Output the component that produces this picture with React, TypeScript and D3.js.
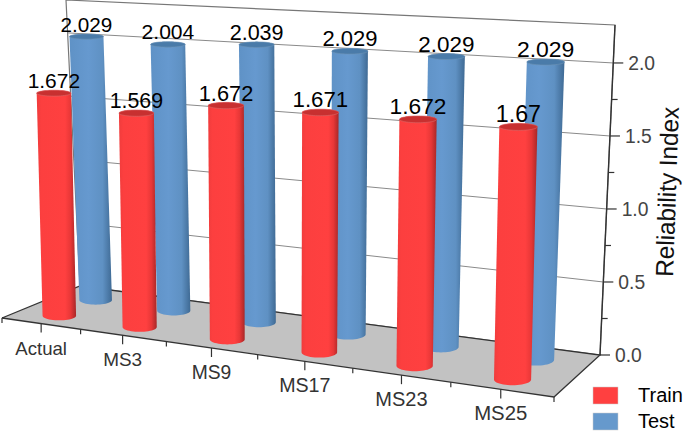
import React, { useEffect, useRef } from "react";
import * as d3 from "d3";

const categories = ["Actual", "MS3", "MS9", "MS17", "MS23", "MS25"];
const trainValues = [1.672, 1.569, 1.672, 1.671, 1.672, 1.67];
const testValues = [2.029, 2.004, 2.039, 2.029, 2.029, 2.029];
const trainLabels = ["1.672", "1.569", "1.672", "1.671", "1.672", "1.67"];
const testLabels = ["2.029", "2.004", "2.039", "2.029", "2.029", "2.029"];
const yTicks = [0, 0.5, 1, 1.5, 2];
const yMinorTicks = [0.25, 0.75, 1.25, 1.75];

type Pt = [number, number];

const width = 685;
const height = 431;
const zMax = 2.26;

// box corners as seen in the picture
const floorFL: Pt = [2, 318];
const floorFR: Pt = [554, 397];
const floorBL: Pt = [80, 286];
const floorBR: Pt = [600, 355];
const topFL: Pt = [-5, 17];
const topFR: Pt = [562, 45];
const topBL: Pt = [66, 0];
const topBR: Pt = [615, 25];

const mix = (a: Pt, b: Pt, t: number): Pt => [a[0] + (b[0] - a[0]) * t, a[1] + (b[1] - a[1]) * t];

const zScale = d3.scaleLinear().domain([0, zMax]).range([0, 1]);
// spacing along the floor grows toward the viewer
const uScale = d3.scalePow().exponent(1.12).domain([0, categories.length]).range([0.01, 0.995]);

const project = (u: number, v: number, z: number): Pt => {
  const floor = mix(mix(floorFL, floorFR, u), mix(floorBL, floorBR, u), v);
  const top = mix(mix(topFL, topFR, u), mix(topBL, topBR, u), v);
  return mix(floor, top, zScale(z));
};

const radiusU = (u: number) => 0.0305 + 0.004 * u;
const radiusV = 0.14;

// the bar ends are level ellipses on screen
const ellipse = (u: number, v: number, z: number): Pt[] => {
  const ru = radiusU(u);
  const [cx, cy] = project(u, v, z);
  const rx = (project(u + ru, v, z)[0] - project(u - ru, v, z)[0]) / 2;
  const ry = (project(u, v - radiusV, z)[1] - project(u, v + radiusV, z)[1]) / 2;
  return d3.range(48).map((i) => {
    const a = (i / 48) * Math.PI * 2;
    return [cx + rx * Math.cos(a), cy + ry * Math.sin(a)] as Pt;
  });
};

const App = () => {
  const svgRef = useRef<SVGSVGElement>(null);

  useEffect(() => {
    if (!svgRef.current) return;
    const svg = d3.select(svgRef.current);
    svg.selectAll("*").remove();

    const defs = svg.append("defs");
    const gradient = (id: string, stops: [number, string][]) => {
      const g = defs.append("linearGradient").attr("id", id);
      stops.forEach(([o, c]) => g.append("stop").attr("offset", o).attr("stop-color", c));
    };
    gradient("redBody", [
      [0, "#f03c3c"],
      [0.12, "#fc3f3f"],
      [0.72, "#ff4040"],
      [0.86, "#e83737"],
      [1, "#a82828"],
    ]);
    gradient("blueBody", [
      [0, "#5f92c6"],
      [0.45, "#6699cf"],
      [0.78, "#5f91c3"],
      [1, "#3f6a94"],
    ]);

    const line = d3.line<Pt>();
    const poly = (pts: Pt[]) => line(pts) + "Z";

    // back wall
    svg
      .append("path")
      .attr("d", poly([project(0, 1, 0), project(0, 1, zMax), project(1, 1, zMax), project(1, 1, 0)]))
      .attr("fill", "white")
      .attr("stroke", "#777")
      .attr("stroke-width", 1.2);

    // gridlines
    yTicks.slice(1).forEach((t) => {
      svg
        .append("path")
        .attr("d", line([project(0, 1, t), project(1, 1, t)]))
        .attr("stroke", "#8a8a8a")
        .attr("stroke-width", 1)
        .attr("fill", "none");
    });

    // floor
    svg
      .append("path")
      .attr("d", poly([project(0, 0, 0), project(1, 0, 0), project(1, 1, 0), project(0, 1, 0)]))
      .attr("fill", "#c2c2c2");
    svg
      .append("path")
      .attr("d", line([project(0, 0, 0), project(0, 1, 0), project(1, 1, 0), project(1, 0, 0), project(0, 0, 0)]))
      .attr("fill", "none")
      .attr("stroke", "#333")
      .attr("stroke-width", 1.3);

    // cylinders, back row first
    const drawBars = (values: number[], v: number, body: string, cap: string, rim: string) => {
      values.forEach((value, i) => {
        const u = uScale(i + 0.5);
        const base = ellipse(u, v, 0);
        const top = ellipse(u, v, value);
        svg
          .append("path")
          .attr("d", poly(d3.polygonHull([...base, ...top]) as Pt[]))
          .attr("fill", `url(#${body})`);
        svg
          .append("path")
          .attr("d", poly(top))
          .attr("fill", cap)
          .attr("stroke", rim)
          .attr("stroke-width", 0.6);
      });
    };
    drawBars(testValues, 0.72, "blueBody", "#4a7ba9", "#6f93b5");
    drawBars(trainValues, 0.24, "redBody", "#c83030", "#d86a6a");

    // value labels, they scale with the bar they sit on
    const drawLabels = (values: number[], labels: string[], v: number) => {
      values.forEach((value, i) => {
        const u = uScale(i + 0.5);
        const ru = radiusU(u);
        const [x, y] = project(u, v, value);
        const barWidth = project(u + ru, v, value)[0] - project(u - ru, v, value)[0];
        svg
          .append("text")
          .attr("x", x)
          .attr("y", y - 5)
          .attr("text-anchor", "middle")
          .attr("font-size", barWidth * 0.61)
          .attr("fill", "#000")
          .text(labels[i]);
      });
    };
    drawLabels(testValues, testLabels, 0.72);
    drawLabels(trainValues, trainLabels, 0.24);

    // category axis on the front edge
    const frontTick = (u: number, len: number) => {
      const [x, y] = project(u, 0, 0);
      svg
        .append("line")
        .attr("x1", x)
        .attr("y1", y)
        .attr("x2", x)
        .attr("y2", y + len)
        .attr("stroke", "#333")
        .attr("stroke-width", 1.2);
    };
    d3.range(0, categories.length + 1).forEach((i) =>
      frontTick(i === 0 ? 0 : i === categories.length ? 1 : uScale(i), 5),
    );
    categories.forEach((c, i) => {
      const u = uScale(i + 0.5);
      frontTick(u, 9);
      const [x, y] = project(u, 0, 0);
      svg
        .append("text")
        .attr("x", x)
        .attr("y", y + 31)
        .attr("text-anchor", "middle")
        .attr("font-size", 18.6 + i * 0.35)
        .attr("fill", "#333")
        .text(c);
    });

    // value axis on the right edge
    svg
      .append("path")
      .attr("d", line([project(1, 1, 0), project(1, 1, zMax)]))
      .attr("stroke", "#333")
      .attr("stroke-width", 1.4);
    yTicks.forEach((t) => {
      const [x, y] = project(1, 1, t);
      svg
        .append("line")
        .attr("x1", x)
        .attr("y1", y)
        .attr("x2", x + 10)
        .attr("y2", y)
        .attr("stroke", "#333")
        .attr("stroke-width", 1.2);
      svg
        .append("text")
        .attr("x", x + 15)
        .attr("y", y + 7)
        .attr("font-size", 19.3)
        .attr("fill", "#444")
        .text(d3.format(".1f")(t));
    });
    yMinorTicks.forEach((t) => {
      const [x, y] = project(1, 1, t);
      svg
        .append("line")
        .attr("x1", x)
        .attr("y1", y)
        .attr("x2", x + 6)
        .attr("y2", y)
        .attr("stroke", "#333")
        .attr("stroke-width", 1.2);
    });

    // title is fitted to its measured length
    const title = svg
      .append("text")
      .attr("font-size", 25)
      .attr("fill", "#111")
      .text("Reliability Index");
    const fit = 170 / (title.node() as SVGTextElement).getComputedTextLength();
    title.attr("transform", `translate(673,277) rotate(-88) scale(${fit},1)`);

    // legend
    const legend = svg.append("g").attr("transform", "translate(593,387)");
    [
      { label: "Train", color: "#ff4040", y: 0 },
      { label: "Test", color: "#6699cc", y: 26 },
    ].forEach((d) => {
      legend
        .append("rect")
        .attr("y", d.y)
        .attr("width", 25)
        .attr("height", 17)
        .attr("fill", d.color)
        .attr("stroke", "#ccc")
        .attr("stroke-width", 0.5);
      legend
        .append("text")
        .attr("x", 45)
        .attr("y", d.y + 14.5)
        .attr("font-size", 20)
        .attr("fill", "#000")
        .text(d.label);
    });
  }, []);

  return (
    <svg
      ref={svgRef}
      width={width}
      height={height}
      style={{ position: "absolute", left: 0, top: 0, fontFamily: "'Liberation Sans', Arial, sans-serif" }}
    ></svg>
  );
};

export default App;
